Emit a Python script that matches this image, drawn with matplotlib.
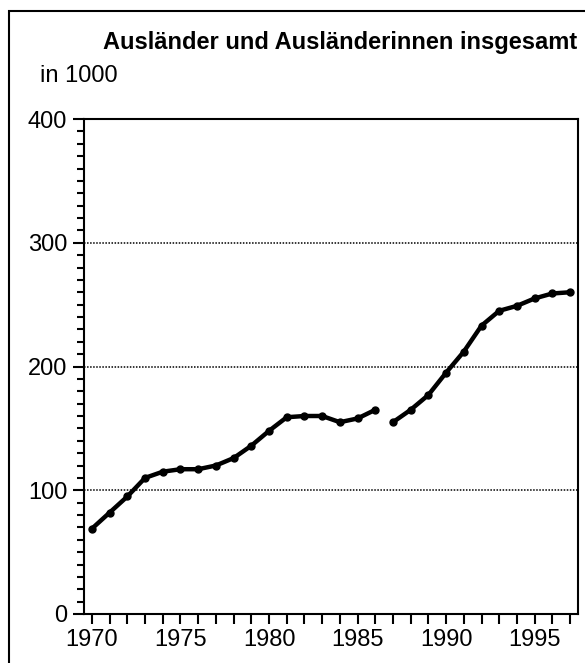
import matplotlib
matplotlib.use("Agg")
import matplotlib.pyplot as plt
from matplotlib import font_manager
from matplotlib.patches import Rectangle
from matplotlib.ticker import MultipleLocator

# ---- data -------------------------------------------------------------
years_a = [1970, 1971, 1972, 1973, 1974, 1975, 1976, 1977, 1978,
           1979, 1980, 1981, 1982, 1983, 1984, 1985, 1986]
vals_a = [69, 82, 95, 110, 115, 117, 117, 120, 126,
          136, 148, 159, 160, 160, 155, 158, 165]

years_b = [1987, 1988, 1989, 1990, 1991, 1992, 1993, 1994, 1995, 1996, 1997]
vals_b = [155, 165, 177, 195, 212, 233, 245, 249, 255, 259, 260]

x_labels = [1970, 1975, 1980, 1985, 1990, 1995]

# ---- font -------------------------------------------------------------
names = {f.name for f in font_manager.fontManager.ttflist}
FONT = "Liberation Sans Narrow" if "Liberation Sans Narrow" in names else "Liberation Sans"
plt.rcParams["font.family"] = [FONT, "DejaVu Sans"]

fig = plt.figure(figsize=(5.85, 6.63), dpi=100, facecolor="white")

# outer frame (cropped on right/bottom)
fig.add_artist(Rectangle((9 / 585, -0.05), 1.2, 1 - 11 / 663 + 0.05,
                         transform=fig.transFigure, fill=False,
                         edgecolor="black", linewidth=1.5))

ax = fig.add_axes([84 / 585, 1 - 614 / 663, (578 - 84) / 585, (614 - 119) / 663])

for yrs, vals in ((years_a, vals_a), (years_b, vals_b)):
    ax.plot(yrs, vals, color="black", linewidth=3.2, marker="o",
            markersize=5, zorder=3, solid_capstyle="round")

ax.set_xlim(1969.55, 1997.45)
ax.set_ylim(0, 400)

for g in (100, 200, 300):
    ax.axhline(g, color="black", linewidth=1.1, linestyle=(0, (1, 1)), zorder=1)

ax.yaxis.set_major_locator(MultipleLocator(100))
ax.yaxis.set_minor_locator(MultipleLocator(10))
ax.set_xticks(range(1970, 1998))
ax.set_xticklabels([str(y) if y in x_labels else "" for y in range(1970, 1998)])

ax.tick_params(axis="y", which="major", direction="out", length=8, width=1.5,
               labelsize=17, pad=4)
ax.tick_params(axis="y", which="minor", direction="out", length=5, width=1.5)
ax.tick_params(axis="x", which="major", direction="out", length=7, width=1.5,
               labelsize=17, pad=4)

for s in ax.spines.values():
    s.set_linewidth(1.5)

fig.text(340 / 585, 1 - 43 / 663, "Ausländer und Ausländerinnen insgesamt",
         ha="center", va="center", fontsize=17, fontweight="bold")
fig.text(40 / 585, 1 - 76 / 663, "in 1000", ha="left", va="center", fontsize=17)

fig.savefig("out.png", dpi=100, facecolor="white")
